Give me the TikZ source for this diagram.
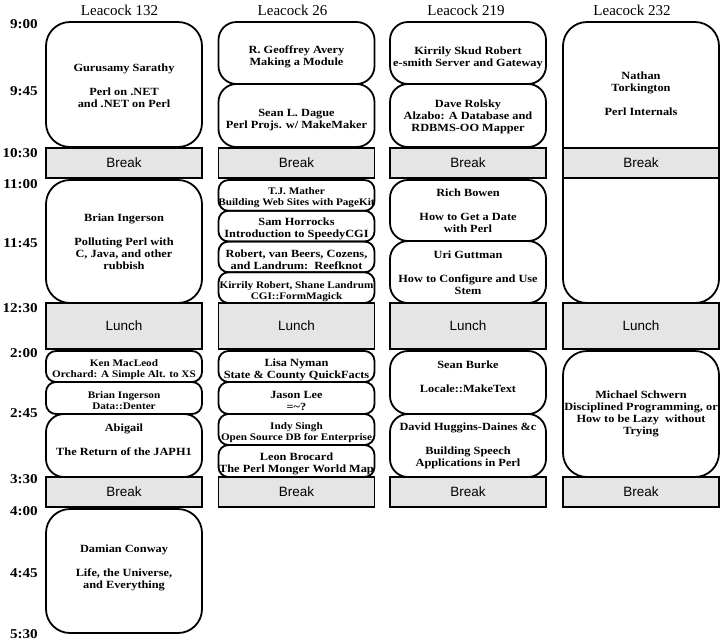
\documentclass[tikz,border=0pt]{standalone}
\usepackage{fontspec}
\setmainfont{Liberation Serif}
\newfontfamily\talkfont[FakeStretch=1.12]{Liberation Serif}
\newfontfamily\breakfont{Liberation Sans}
\definecolor{breakgray}{HTML}{E5E5E5}

\begin{document}
\begin{tikzpicture}[x=1pt,y=-1pt,
talk/.style={draw=black, line width=1.8pt, minimum width=156pt, inner sep=0pt},
tall/.style={talk, rounded corners=24pt},
half/.style={talk, rounded corners=18pt},
slim/.style={talk, rounded corners=10pt},
pausebox/.style={draw=black, line width=1.8pt, fill=breakgray, minimum width=156pt, inner sep=0pt, font=\breakfont\fontsize{13.5}{16}\selectfont},
title/.style={align=center, inner sep=0pt, font=\talkfont\bfseries\fontsize{11}{12}\selectfont},
smalltitle/.style={title, font=\talkfont\bfseries\fontsize{10}{11}\selectfont},
room/.style={anchor=base, inner sep=0pt, font=\fontsize{15}{18}\selectfont},
clock/.style={anchor=base east, inner sep=0pt, font=\talkfont\bfseries\fontsize{13.5}{16}\selectfont}
]
    \useasboundingbox (0,0) rectangle (727,641);

    \node [room] (r132) at (119.5,15) {Leacock 132};
    \node [room] (r26)  at (292.5,15) {Leacock 26};
    \node [room] (r219) at (466,15)   {Leacock 219};
    \node [room] (r232) at (632,15)   {Leacock 232};

    \node [clock] (t900)  at (38,28)  {9:00};
    \node [clock] (t945)  at (38,95)  {9:45};
    \node [clock] (t1030) at (38,157) {10:30};
    \node [clock] (t1100) at (38,188) {11:00};
    \node [clock] (t1145) at (38,247) {11:45};
    \node [clock] (t1230) at (38,312) {12:30};
    \node [clock] (t200)  at (38,357) {2:00};
    \node [clock] (t245)  at (38,417) {2:45};
    \node [clock] (t330)  at (38,483) {3:30};
    \node [clock] (t400)  at (38,515) {4:00};
    \node [clock] (t445)  at (38,577) {4:45};
    \node [clock] (t530)  at (38,638) {5:30};

    % Leacock 132
    \node [tall, minimum height=125pt] (a1) at (124,84.5)  {};
    \node [tall, minimum height=123pt] (a2) at (124,241.5) {};
    \node [slim, minimum height=31pt]  (a3) at (124,366.5) {};
    \node [slim, minimum height=32pt]  (a4) at (124,398)   {};
    \node [half, minimum height=63pt]  (a5) at (124,445.5) {};
    \node [tall, minimum height=124pt] (a6) at (124,571)   {};

    \node [title] (a1t) at (124,86) {Gurusamy Sarathy\\[12pt]Perl on .NET\\and .NET on Perl};
    \node [title] (a2t) at (124,242) {Brian Ingerson\\[12pt]Polluting Perl with\\C, Java, and other\\rubbish};
    \node [smalltitle] (a3t) at (124,369.5) {Ken MacLeod\\Orchard: A Simple Alt. to XS};
    \node [smalltitle] (a4t) at (124,401) {Brian Ingerson\\Data::Denter};
    \node [title] (a5t) at (124,439.5) {Abigail\\[12pt]The Return of the JAPH1};
    \node [title] (a6t) at (124,567.5) {Damian Conway\\[12pt]Life, the Universe,\\and Everything};

    % Leacock 26
    \node [half, minimum height=62pt]    (b1)  at (296.5,53)    {};
    \node [half, minimum height=63pt]    (b2)  at (296.5,115.5) {};
    \node [slim, minimum height=30.75pt] (b3)  at (296.5,195.4) {};
    \node [slim, minimum height=30.75pt] (b4)  at (296.5,226.1) {};
    \node [slim, minimum height=30.75pt] (b5)  at (296.5,256.9) {};
    \node [slim, minimum height=30.75pt] (b6)  at (296.5,287.6) {};
    \node [slim, minimum height=31pt]    (b7)  at (296.5,366.5) {};
    \node [slim, minimum height=32pt]    (b8)  at (296.5,398)   {};
    \node [slim, minimum height=31pt]    (b9)  at (296.5,429.5) {};
    \node [slim, minimum height=32pt]    (b10) at (296.5,461)   {};

    \node [title] (b1t) at (296.5,57) {R. Geoffrey Avery\\Making a Module};
    \node [title] (b2t) at (296.5,120) {Sean L. Dague\\Perl Projs. w/ MakeMaker};
    \node [smalltitle] (b3t) at (296.5,198) {T.J. Mather\\Building Web Sites with PageKit};
    \node [title] (b4t) at (296.5,228.5) {Sam Horrocks\\Introduction to SpeedyCGI};
    \node [title] (b5t) at (296.5,259.5) {Robert, van Beers, Cozens,\\and Landrum:\ \ Reefknot};
    \node [smalltitle] (b6t) at (296.5,292) {Kirrily Robert, Shane Landrum\\CGI::FormMagick};
    \node [title] (b7t) at (296.5,370) {Lisa Nyman\\State \& County QuickFacts};
    \node [title] (b8t) at (296.5,401) {Jason Lee\\=\textasciitilde?};
    \node [smalltitle] (b9t) at (296.5,433) {Indy Singh\\Open Source DB for Enterprise};
    \node [title] (b10t) at (296.5,463.5) {Leon Brocard\\The Perl Monger World Map};

    % Leacock 219
    \node [half, minimum height=62pt] (c1) at (468,53)    {};
    \node [half, minimum height=63pt] (c2) at (468,115.5) {};
    \node [half, minimum height=61pt] (c3) at (468,210.5) {};
    \node [half, minimum height=62pt] (c4) at (468,272)   {};
    \node [half, minimum height=63pt] (c5) at (468,382.5) {};
    \node [half, minimum height=63pt] (c6) at (468,445.5) {};

    \node [title] (c1t) at (468,57.5) {Kirrily Skud Robert\\e-smith Server and Gateway};
    \node [title] (c2t) at (468,116.5) {Dave Rolsky\\Alzabo: A Database and\\RDBMS-OO Mapper};
    \node [title] (c3t) at (468,211) {Rich Bowen\\[12pt]How to Get a Date\\with Perl};
    \node [title] (c4t) at (468,272.5) {Uri Guttman\\[12pt]How to Configure and Use\\Stem};
    \node [title] (c5t) at (468,376.5) {Sean Burke\\[12pt]Locale::MakeText};
    \node [title] (c6t) at (468,446) {David Huggins-Daines \&c\\[12pt]Building Speech\\Applications in Perl};

    % Leacock 232
    \draw [line width=1.8pt, rounded corners=24pt] (563,148) -- (563,22) -- (719,22) -- (719,148);
    \draw [line width=1.8pt, rounded corners=24pt] (563,178) -- (563,303) -- (719,303) -- (719,178);
    \node [tall, minimum height=126pt] (d3) at (641,414) {};

    \node [title] (d1t) at (641,93.5) {Nathan\\Torkington\\[12pt]Perl Internals};
    \node [title] (d3t) at (641,413.5) {Michael Schwern\\Disciplined Programming, or\\How to be Lazy\ \ without\\Trying};

    % breaks
    \node [pausebox, minimum height=30pt] (p1a) at (124,163)   {Break};
    \node [pausebox, minimum height=30pt] (p1b) at (296.5,163) {Break};
    \node [pausebox, minimum height=30pt] (p1c) at (468,163)   {Break};
    \node [pausebox, minimum height=30pt] (p1d) at (641,163)   {Break};

    \node [pausebox, minimum height=46pt] (la) at (124,326)   {Lunch};
    \node [pausebox, minimum height=46pt] (lb) at (296.5,326) {Lunch};
    \node [pausebox, minimum height=46pt] (lc) at (468,326)   {Lunch};
    \node [pausebox, minimum height=46pt] (ld) at (641,326)   {Lunch};

    \node [pausebox, minimum height=30pt] (p2a) at (124,492)   {Break};
    \node [pausebox, minimum height=30pt] (p2b) at (296.5,492) {Break};
    \node [pausebox, minimum height=30pt] (p2c) at (468,492)   {Break};
    \node [pausebox, minimum height=30pt] (p2d) at (641,492)   {Break};
\end{tikzpicture}
\end{document}
